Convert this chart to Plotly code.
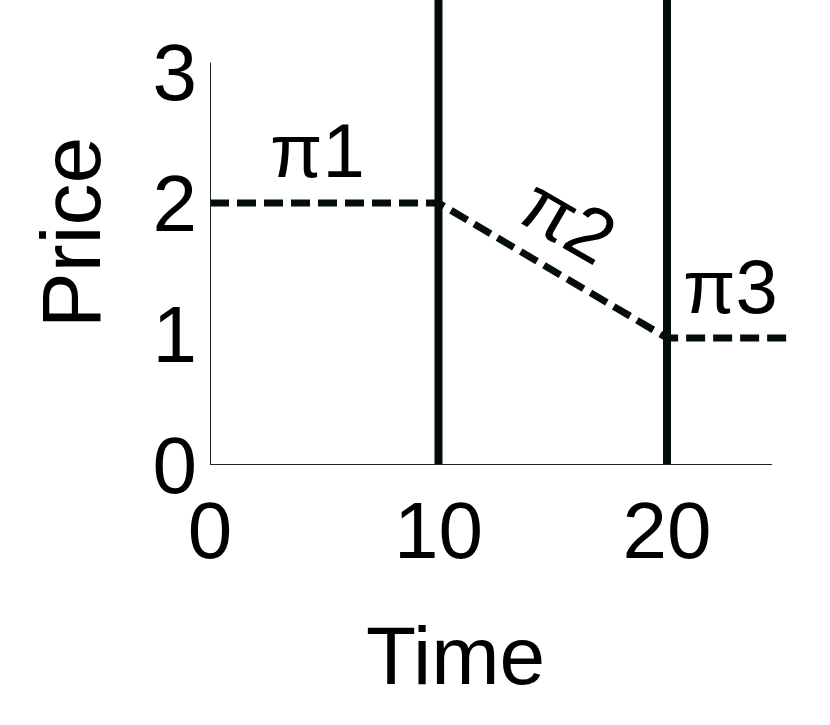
import plotly.graph_objects as go

# price path over time (dashed)
price_time = [0, 10, 20, 25.5]
price = [2, 2, 0.97, 0.97]

# period boundaries (thick vertical lines)
period_bounds = [10, 20]

# period labels
period_labels = ["π1", "π2", "π3"]
label_x = [4.7, 15.7, 22.8]
label_y = [2.4, 1.87, 1.36]
label_angle = [0, 30, 0]

x_ticks = [0, 10, 20]
y_ticks = [0, 1, 2, 3]

ink = "#040c0c"
font = "Liberation Sans, Arial, Helvetica, sans-serif"

fig = go.Figure()

for xb in period_bounds:
    fig.add_trace(go.Scatter(x=[xb, xb], y=[0, 3.6], mode="lines",
                             line=dict(color=ink, width=8), showlegend=False,
                             hoverinfo="skip"))

fig.add_trace(go.Scatter(x=price_time, y=price, mode="lines",
                         line=dict(color=ink, width=7, dash="19px,8px"),
                         showlegend=False))

# axis lines, drawn shorter than the plotting range
fig.add_shape(type="line", x0=0, x1=24.6, y0=0, y1=0,
              line=dict(color="#222", width=2))
fig.add_shape(type="line", x0=0, x1=0, y0=0, y1=3.07,
              line=dict(color="#222", width=2))

for t, xx, yy, a in zip(period_labels, label_x, label_y, label_angle):
    fig.add_annotation(x=xx, y=yy, text=t, showarrow=False, textangle=a,
                       font=dict(size=76, color="black", family=font))

fig.add_annotation(xref="paper", yref="paper", x=(455 - 210) / 620, y=-0.41,
                   xanchor="center", yanchor="middle",
                   text="Time", showarrow=False,
                   font=dict(size=82, color="black", family=font))

fig.update_layout(
    width=830, height=725,
    margin=dict(l=210, r=0, t=0, b=260),
    plot_bgcolor="white", paper_bgcolor="white",
    font=dict(family=font, color="black"),
    xaxis=dict(range=[0, 620 / 22.85], showgrid=False, zeroline=False,
               showline=False, tickmode="array", tickvals=x_ticks,
               tickfont=dict(size=80), ticklabelstandoff=12, ticks=""),
    yaxis=dict(range=[0, 465 / 131], showgrid=False, zeroline=False,
               showline=False, tickmode="array", tickvals=y_ticks,
               tickfont=dict(size=80), ticklabelstandoff=12, ticks="",
               title=dict(text="Price", font=dict(size=84), standoff=24)),
)

fig.write_html("out.html", config={"displayModeBar": False},
               post_script="document.body.style.margin='0';")
